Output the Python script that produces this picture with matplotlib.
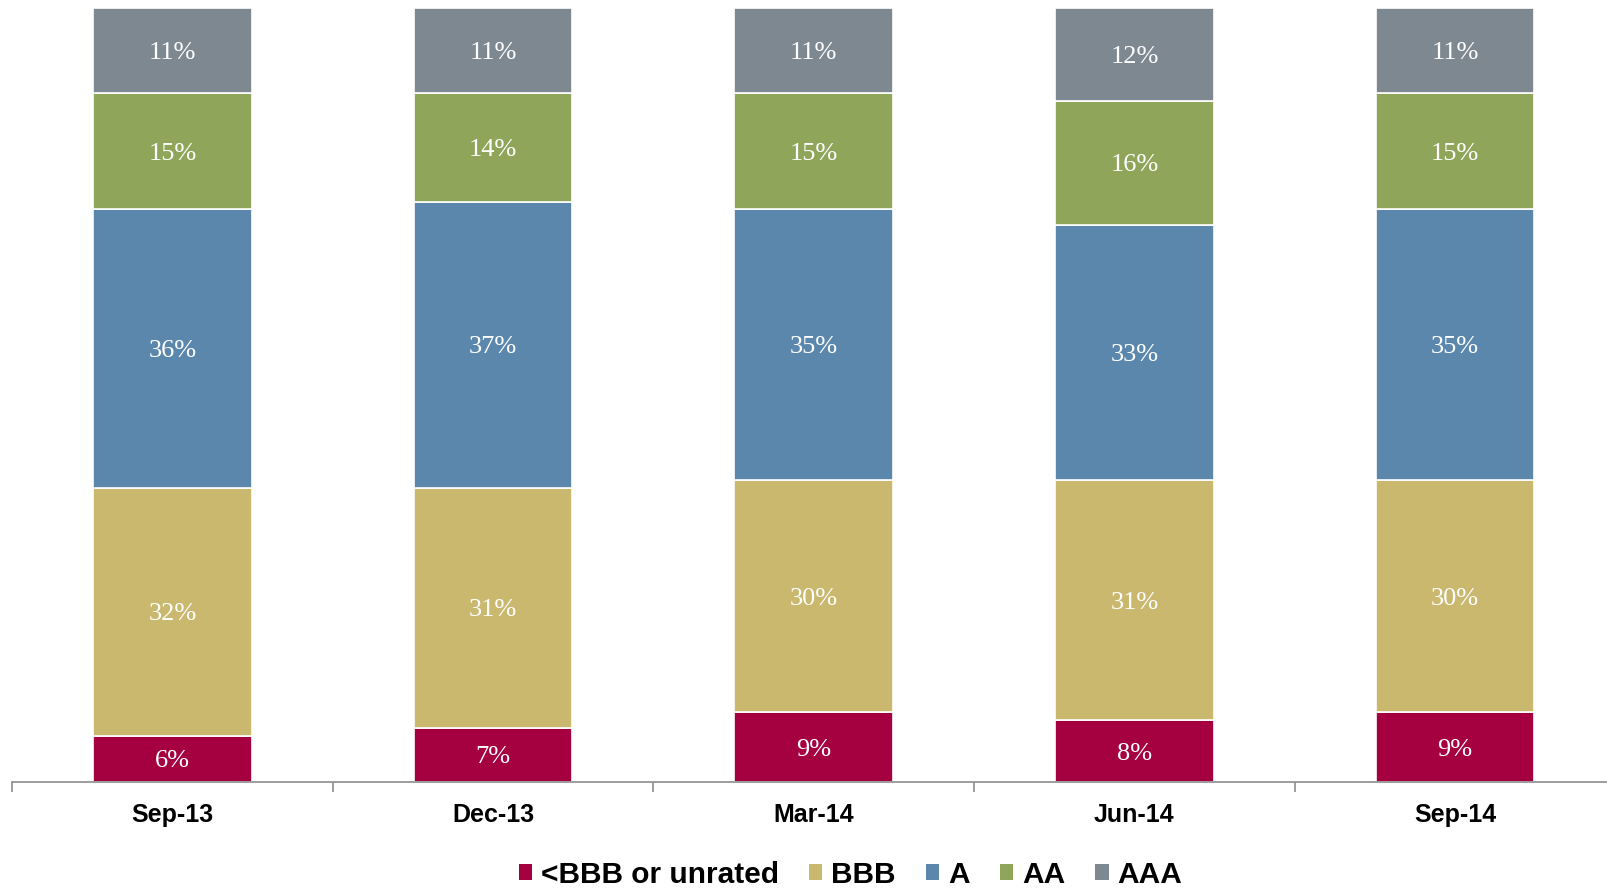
import matplotlib.pyplot as plt
from matplotlib.patches import Patch
import numpy as np

# Quarter-end rating mix of the portfolio (% of holdings)
QUARTERS = ["Sep-13", "Dec-13", "Mar-14", "Jun-14", "Sep-14"]
RATINGS = ["<BBB or unrated", "BBB", "A", "AA", "AAA"]

below_bbb = [6, 7, 9, 8, 9]
bbb = [32, 31, 30, 31, 30]
a_rated = [36, 37, 35, 33, 35]
aa_rated = [15, 14, 15, 16, 15]
aaa_rated = [11, 11, 11, 12, 11]

COLORS = ["#A50040", "#C9B86E", "#5B87AD", "#8FA65A", "#7E8891"]

fig = plt.figure(figsize=(16.08, 8.9), dpi=100)
ax = fig.add_axes([12 / 1608, 1 - 782 / 890, 1 - 12 / 1608, (782 - 8) / 890])

x = np.arange(len(QUARTERS))
bottom = np.zeros(len(QUARTERS))
for vals, color in zip([below_bbb, bbb, a_rated, aa_rated, aaa_rated], COLORS):
    vals = np.array(vals, dtype=float)
    ax.bar(x, vals, width=0.495, bottom=bottom, color=color,
           edgecolor="white", linewidth=1.2)
    for xi, b, v in zip(x, bottom, vals):
        ax.text(xi, b + v / 2, f"{v:.0f}%", ha="center", va="center_baseline",
                color="white", fontsize=19, family="Liberation Serif")
    bottom += vals

ax.set_xlim(-0.5, 4.477)
ax.set_ylim(0, 100)
ax.set_yticks([])
for side in ["top", "right", "left"]:
    ax.spines[side].set_visible(False)
ax.spines["bottom"].set_color("#8C8C8C")
ax.spines["bottom"].set_linewidth(1.2)

ax.set_xticks(x)
ax.set_xticklabels(QUARTERS, fontsize=18, fontweight="bold",
                   family="Liberation Sans")
ax.tick_params(axis="x", which="major", length=0, pad=15)
ax.set_xticks(np.arange(-0.5, 4.5, 1.0), minor=True)
ax.tick_params(axis="x", which="minor", length=7, width=1.2, color="#8C8C8C")

handles = [Patch(facecolor=c, edgecolor="none") for c in COLORS]
fig.legend(handles, RATINGS, loc="center", bbox_to_anchor=(0.529, 0.017),
           ncol=5, frameon=False, handlelength=0.45, handleheight=0.45,
           handletextpad=0.3, columnspacing=1.0,
           prop={"family": "Liberation Sans", "size": 21.5, "weight": "bold"})

fig.savefig("out.png", dpi=100)
